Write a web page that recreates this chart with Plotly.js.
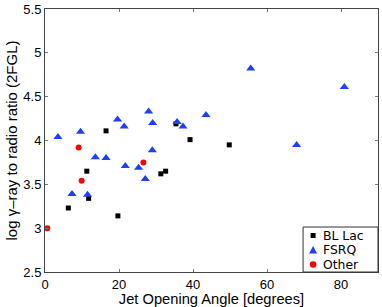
<!DOCTYPE html>
<html>
<head>
<meta charset="utf-8">
<script src="https://cdn.plot.ly/plotly-3.0.1.min.js"></script>
<style>html,body{margin:0;padding:0;background:#fff;}#chart{width:382px;height:307px;}</style>
</head>
<body>
<div id="chart"></div>
<script>
var blLacX = [16.5, 35.4, 39.2, 49.8, 11.3, 31.3, 32.6, 11.8, 6.3, 19.7];
var blLacY = [4.11, 4.19, 4.01, 3.95, 3.65, 3.62, 3.65, 3.34, 3.23, 3.14];
var fsrqX = [3.5, 9.6, 19.6, 21.4, 28.0, 29.1, 29.0, 35.7, 37.3, 43.5, 13.6, 16.5, 21.7, 25.3, 27.1, 7.3, 11.5, 55.6, 80.9, 68.0];
var fsrqY = [4.04, 4.10, 4.24, 4.16, 4.33, 4.20, 3.89, 4.21, 4.16, 4.29, 3.81, 3.80, 3.71, 3.69, 3.56, 3.39, 3.38, 4.82, 4.61, 3.95];
var otherX = [9.1, 26.6, 9.9, 0.6];
var otherY = [3.92, 3.75, 3.54, 3.0];
var seriesNames = ['BL Lac', 'FSRQ', 'Other'];
var xTicks = [0, 20, 40, 60, 80];
var yTicks = [2.5, 3, 3.5, 4, 4.5, 5, 5.5];
var yTickText = ['2.5', '3', '3.5', '4', '4.5', '5', '5.5'];

var font = 'Liberation Sans, Arial, sans-serif';
var colors = ['#000000', '#1f3fff', '#ff0000'];
var data = [
  {x: blLacX, y: blLacY, name: seriesNames[0], type: 'scatter', mode: 'markers',
   marker: {symbol: 'square', size: 5, color: colors[0]}},
  {x: fsrqX, y: fsrqY, name: seriesNames[1], type: 'scatter', mode: 'markers',
   marker: {symbol: 'triangle-up', size: 8, color: colors[1]}},
  {x: otherX, y: otherY, name: seriesNames[2], type: 'scatter', mode: 'markers',
   marker: {symbol: 'circle', size: 6, color: colors[2]}}
];

// manual compact legend (paper coords; plot area is 333 x 263 px)
var legX = 0.805, legTextX = 0.832;
var legY = [0.1388, 0.0837, 0.0285];
var shapes = [
  {type: 'rect', xref: 'paper', yref: 'paper', x0: 0.775, x1: 1, y0: 0, y1: 0.171,
   line: {color: '#333', width: 1}, fillcolor: '#fff', layer: 'above'},
  {type: 'rect', xref: 'paper', yref: 'paper', xsizemode: 'pixel', ysizemode: 'pixel',
   xanchor: legX, yanchor: legY[0], x0: -2.5, x1: 2.5, y0: -2.5, y1: 2.5,
   fillcolor: colors[0], line: {width: 0}, layer: 'above'},
  {type: 'path', xref: 'paper', yref: 'paper', xsizemode: 'pixel', ysizemode: 'pixel',
   xanchor: legX, yanchor: legY[1], path: 'M-4,-3.5 L4,-3.5 L0,4 Z',
   fillcolor: colors[1], line: {width: 0}, layer: 'above'},
  {type: 'circle', xref: 'paper', yref: 'paper', xsizemode: 'pixel', ysizemode: 'pixel',
   xanchor: legX, yanchor: legY[2], x0: -3.3, x1: 3.3, y0: -3.3, y1: 3.3,
   fillcolor: colors[2], line: {width: 0}, layer: 'above'}
];
var annotations = seriesNames.map(function (n, i) {
  return {text: n, xref: 'paper', yref: 'paper', x: legTextX, y: legY[i], xanchor: 'left', yanchor: 'middle',
          showarrow: false, font: {size: 12.4, family: 'DejaVu Sans, sans-serif', color: '#000'}, borderpad: 0};
});

var layout = {
  width: 382, height: 307,
  margin: {l: 45, r: 4, t: 9, b: 35},
  paper_bgcolor: '#fff', plot_bgcolor: '#fff',
  font: {family: font, size: 13, color: '#000'},
  showlegend: false,
  shapes: shapes,
  annotations: annotations,
  xaxis: {range: [0, 90], tickvals: xTicks, ticks: 'inside', ticklen: 3, tickcolor: '#777',
          showline: true, linecolor: '#444', mirror: 'ticks', showgrid: false, zeroline: false,
          tickfont: {size: 13}, automargin: false,
          title: {text: 'Jet Opening Angle [degrees]', font: {size: 14.7}, standoff: 0}},
  yaxis: {range: [2.5, 5.5], tickvals: yTicks, ticktext: yTickText, ticks: 'inside', ticklen: 3, tickcolor: '#777',
          showline: true, linecolor: '#444', mirror: 'ticks', showgrid: false, zeroline: false,
          tickfont: {size: 13}, automargin: false,
          title: {text: 'log γ\u2013ray to radio ratio (2FGL)', font: {size: 15}, standoff: 2}}
};
Plotly.newPlot('chart', data, layout, {displayModeBar: false, staticPlot: true});
</script>
</body>
</html>
